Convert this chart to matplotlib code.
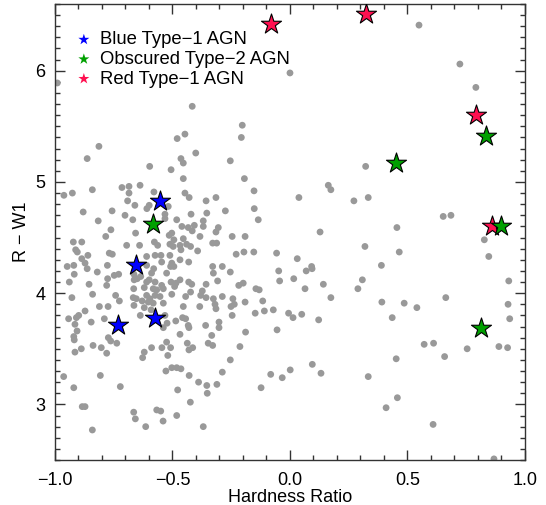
import matplotlib
matplotlib.use("Agg")
import matplotlib.pyplot as plt
from matplotlib.ticker import MultipleLocator

plt.rcParams["font.family"] = ["Liberation Sans", "DejaVu Sans"]
plt.rcParams["font.size"] = 13

# parent sample: hardness ratio vs R - W1 colour
hr_all = [
    -0.99, -0.416, -0.813, -0.863, -0.597, -0.506, -0.962, -0.926, -0.841, -0.715,
    -0.685, -0.638, -0.685, -0.579, -0.691, -0.66, -0.609, -0.599, -0.518, -0.88,
    -0.757, -0.816, -0.702, -0.669, -0.532, -0.532, -0.447, -0.48, -0.401, -0.464,
    -0.454, -0.203, -0.207, -0.254, -0.194, -0.454, -0.153, -0.447, -0.429, -0.357,
    -0.315, -0.421, -0.354, -0.275, -0.152, -0.482, -0.369, -0.135, 0.549, 0.723,
    0.791, 0.0, 0.322, 0.163, 0.174, 0.038, 0.272, 0.333, 0.652, 0.685,
    0.128, 0.455, 0.319, 0.465, 0.827, 0.846, -0.057, 0.031, -0.048, 0.069,
    0.092, 0.094, 0.389, -0.044, 0.016, 0.308, 0.289, 0.064, 0.142, 0.174,
    0.931, 0.663, 0.391, 0.486, 0.54, -0.071, -0.006, 0.05, 0.013, 0.122,
    0.435, 0.928, 0.935, -0.055, 0.571, 0.611, 0.754, 0.658, 0.889, 0.926,
    0.452, 0.095, 0.132, 0.001, -0.033, -0.082, 0.333, 0.457, 0.409, 0.609,
    0.868, -0.123, -0.762, -0.784, -0.657, -0.922, -0.886, -0.695, -0.64, -0.577,
    -0.563, -0.514, -0.511, -0.912, -0.905, -0.769, -0.756, -0.86, -0.886, -0.872,
    -0.61, -0.574, -0.549, -0.511, -0.948, -0.92, -0.863, -0.82, -0.777, -0.61,
    -0.58, -0.546, -0.508, -0.918, -0.939, -0.776, -0.748, -0.729, -0.664, -0.635,
    -0.589, -0.525, -0.855, -0.78, -0.663, -0.65, -0.599, -0.61, -0.574, -0.546,
    -0.506, -0.665, -0.62, -0.582, -0.567, -0.539, -0.84, -0.742, -0.667, -0.61,
    -0.574, -0.553, -0.928, -0.654, -0.629, -0.596, -0.726, -0.603, -0.582, -0.539,
    -0.774, -0.811, -0.664, -0.62, -0.591, -0.899, -0.872, -0.942, -0.909, -0.846,
    -0.79, -0.637, -0.532, -0.915, -0.906, -0.539, -0.523, -0.92, -0.773, -0.46,
    -0.433, -0.407, -0.369, -0.416, -0.305, -0.315, -0.503, -0.454, -0.494, -0.383,
    -0.246, -0.191, -0.329, -0.312, -0.468, -0.44, -0.423, -0.497, -0.464, -0.393,
    -0.229, -0.196, -0.154, -0.468, -0.431, -0.503, -0.494, -0.329, -0.288, -0.326,
    -0.254, -0.468, -0.485, -0.431, -0.418, -0.491, -0.308, -0.218, -0.199, -0.145,
    -0.131, -0.423, -0.357, -0.373, -0.38, -0.503, -0.444, -0.357, -0.326, -0.288,
    -0.243, -0.319, -0.237, -0.191, -0.116, -0.384, -0.454, -0.251, -0.315, -0.148,
    -0.109, -0.246, -0.486, -0.457, -0.444, -0.359, -0.302, -0.302, -0.433, -0.43,
    -0.189, -0.468, -0.333, -0.918, -0.915, -0.888, -0.838, -0.803, -0.78, -0.763,
    -0.737, -0.62, -0.627, -0.589, -0.545, -0.525, -0.508, -0.52, -0.528, -0.503,
    -0.963, -0.807, -0.92, -0.722, -0.884, -0.872, -0.665, -0.658, -0.567, -0.55,
    -0.54, -0.614, -0.841, -0.437, -0.43, -0.414, -0.348, -0.329, -0.213, -0.254,
    -0.482, -0.464, -0.429, -0.288, -0.389, -0.354, -0.311, -0.478, -0.352, -0.424,
    -0.482, -0.369,
]
rw1_all = [
    5.89, 5.68, 5.32, 5.21, 5.14, 5.11, 4.88, 4.90, 4.93, 4.95,
    4.96, 4.97, 4.90, 4.91, 4.83, 4.79, 4.76, 4.79, 4.78, 4.73,
    4.74, 4.65, 4.70, 4.66, 4.71, 4.67, 5.43, 5.39, 5.26, 5.21,
    5.17, 5.51, 5.40, 5.19, 5.03, 5.03, 4.92, 4.90, 4.86, 4.83,
    4.86, 4.71, 4.72, 4.74, 4.76, 4.66, 4.65, 4.66, 6.41, 6.06,
    5.85, 5.98, 5.14, 4.97, 4.93, 4.86, 4.83, 4.86, 4.69, 4.70,
    4.55, 4.59, 4.42, 4.37, 4.48, 4.33, 4.36, 4.31, 4.20, 4.20,
    4.24, 4.22, 4.25, 4.11, 4.13, 4.12, 4.04, 4.04, 4.08, 3.96,
    4.11, 3.96, 3.92, 3.91, 3.87, 3.85, 3.82, 3.81, 3.78, 3.76,
    3.78, 3.90, 3.77, 3.67, 3.54, 3.55, 3.50, 3.43, 3.52, 3.51,
    3.41, 3.36, 3.28, 3.31, 3.24, 3.27, 3.25, 3.06, 2.97, 2.82,
    2.51, 3.15, 4.57, 4.51, 4.54, 4.46, 4.46, 4.43, 4.43, 4.46,
    4.43, 4.52, 4.44, 4.39, 4.37, 4.36, 4.35, 4.34, 4.31, 4.27,
    4.33, 4.34, 4.34, 4.34, 4.24, 4.25, 4.22, 4.19, 4.25, 4.25,
    4.22, 4.28, 4.24, 4.17, 4.10, 4.13, 4.16, 4.17, 4.17, 4.15,
    4.18, 4.18, 4.08, 4.07, 4.12, 4.13, 4.12, 4.10, 4.10, 4.07,
    4.10, 4.04, 4.05, 4.04, 4.03, 4.04, 3.99, 3.98, 3.96, 3.98,
    3.98, 3.97, 3.96, 3.95, 3.93, 3.95, 3.93, 3.92, 3.91, 3.91,
    3.88, 3.88, 3.89, 3.87, 3.85, 3.80, 3.84, 3.77, 3.78, 3.74,
    3.77, 3.80, 3.80, 3.72, 3.66, 3.69, 3.73, 3.61, 3.60, 4.60,
    4.59, 4.61, 4.60, 4.56, 4.59, 4.55, 4.54, 4.49, 4.48, 4.51,
    4.51, 4.51, 4.45, 4.45, 4.43, 4.44, 4.42, 4.42, 4.39, 4.38,
    4.35, 4.37, 4.37, 4.30, 4.28, 4.27, 4.24, 4.24, 4.24, 4.18,
    4.19, 4.12, 4.09, 4.10, 4.08, 4.06, 4.11, 4.07, 4.09, 4.04,
    4.03, 4.01, 4.08, 4.02, 3.98, 3.99, 3.97, 3.96, 3.95, 3.97,
    3.95, 3.90, 3.90, 3.92, 3.93, 3.88, 3.88, 3.88, 3.86, 3.82,
    3.84, 3.80, 3.75, 3.78, 3.77, 3.71, 3.74, 3.69, 3.71, 3.69,
    3.65, 3.63, 3.62, 3.58, 3.47, 3.50, 3.53, 3.51, 3.46, 3.57,
    3.55, 3.47, 3.42, 3.51, 3.51, 3.56, 3.51, 3.44, 3.30, 3.33,
    3.25, 3.26, 3.15, 3.16, 2.98, 2.98, 2.93, 2.87, 2.95, 2.94,
    2.85, 2.80, 2.77, 3.55, 3.49, 3.51, 3.55, 3.53, 3.52, 3.40,
    3.33, 3.32, 3.26, 3.29, 3.20, 3.17, 3.18, 3.13, 3.10, 3.02,
    2.90, 2.80,
]

# highlighted AGN classes
hr_blue = [-0.553, -0.654, -0.576, -0.733]
rw1_blue = [4.83, 4.25, 3.78, 3.71]

hr_green = [-0.583, 0.451, 0.834, 0.898, 0.813]
rw1_green = [4.62, 5.17, 5.41, 4.60, 3.69]

hr_red = [-0.082, 0.322, 0.791, 0.858]
rw1_red = [6.42, 6.51, 5.60, 4.60]

fig = plt.figure(figsize=(5.46, 5.05), dpi=100)
ax = fig.add_axes([0.1007, 0.0891, 0.8608, 0.903])

ax.scatter(hr_all, rw1_all, s=24, color="#999999", edgecolors="none", zorder=2)

star_kw = dict(marker="*", s=230, edgecolors="black", linewidths=0.8)
ax.scatter(hr_blue, rw1_blue, color="#0000ff", label="Blue Type\u22121 AGN", zorder=4, **star_kw)
ax.scatter(hr_green, rw1_green, color="#00a000", label="Obscured Type\u22122 AGN", zorder=4, **star_kw)
ax.scatter(hr_red, rw1_red, color="#ff1050", label="Red Type\u22121 AGN", zorder=3, **star_kw)

ax.set_xlim(-1.0, 1.0)
ax.set_ylim(2.5, 6.6)
ax.xaxis.set_major_locator(MultipleLocator(0.5))
ax.xaxis.set_minor_locator(MultipleLocator(0.1))
ax.yaxis.set_major_locator(MultipleLocator(1))
ax.yaxis.set_minor_locator(MultipleLocator(0.1))
ax.tick_params(which="both", direction="in", top=True, right=True, width=1.0, color="#333333")
ax.tick_params(which="major", length=7)
ax.tick_params(which="minor", length=3.5)
ax.tick_params(axis="x", which="major", pad=8.5)
ax.tick_params(axis="y", which="major", pad=7)
for sp in ax.spines.values():
    sp.set_color("#333333")
    sp.set_linewidth(1.0)

ax.set_xlabel("Hardness Ratio", labelpad=0)
ax.set_ylabel("R \u2212 W1", labelpad=4)

leg = ax.legend(loc="upper left", bbox_to_anchor=(0.03, 0.956), frameon=False,
                markerscale=0.55, handlelength=0.8, handletextpad=0.5,
                labelspacing=0.14, borderaxespad=0.0, fontsize=13.3)
for h in leg.legend_handles:
    h.set_edgecolor("none")

fig.savefig("out.png", dpi=100)
